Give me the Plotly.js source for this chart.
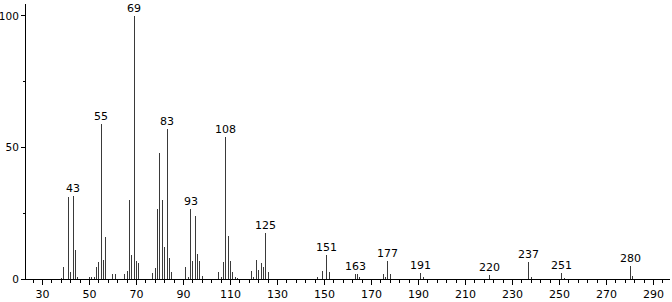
<!DOCTYPE html>
<html>
<head>
<meta charset="utf-8">
<script src="https://cdn.plot.ly/plotly-3.0.1.min.js"></script>
<style>html,body{margin:0;padding:0;background:#fff;}#chart{width:672px;height:302px;}</style>
</head>
<body>
<div id="chart"></div>
<script>
// m/z values of the peaks
var mz = [38,39,41,42,43,44,45,50,51,52,53,54,55,56,57,60,61,65,66,67,68,69,70,71,
  77,78,79,80,81,82,83,84,85,91,92,93,94,95,96,97,98,105,106,107,108,109,110,111,112,113,
  119,120,121,122,123,124,125,126,147,149,151,152,163,164,165,175,176,177,178,191,192,
  220,237,238,251,252,280,281];
// relative intensities (%)
var intensity = [0.5,4.7,31,2.5,31.5,11,0.7,0.6,0.8,0.6,4.7,6.6,59,7.2,16,2,2,2,3.2,30,9,100,7,6,
  2.4,4,26.5,48,30,12,57,8,2.5,4.7,0.7,26.5,7,24,9.5,7,1.2,2.5,0.7,6.5,54,16.5,6.8,2.7,0.7,0.5,
  3,0.6,7.2,3.5,6,4.7,17.5,2.5,0.7,3,9,2.6,1.8,1.8,0.7,1.8,0.8,7,1.9,2.4,0.6,
  1.5,6.3,0.7,2.2,0.5,5.1,1.3];
// labelled peaks
var labelledPeaks = [43,55,69,83,93,108,125,151,163,177,191,220,237,251,280];
// axis ticks
var xTickVals = [30,50,70,90,110,130,150,170,190,210,230,250,270,290];
var yTickVals = [0,50,100];

var FONT = '"DejaVu Sans", sans-serif';

var annotations = labelledPeaks.map(function(p){
  var i = mz.indexOf(p);
  return {x:p, y:intensity[i], xref:'x', yref:'y', text:String(p), showarrow:false,
    yanchor:'bottom', xanchor:'center', yshift:-1, font:{family:FONT, size:11, color:'#000'}};
});

var trace = {type:'bar', x:mz, y:intensity, width:0.42,
  marker:{color:'#3a3a3a', line:{width:0}}, hoverinfo:'x+y'};

var layout = {
  width:672, height:302,
  margin:{l:26, r:2, t:4, b:23, pad:0},
  paper_bgcolor:'#fff', plot_bgcolor:'#fff',
  showlegend:false, bargap:0,
  font:{family:FONT, size:11, color:'#000'},
  xaxis:{range:[23,297], tickvals:xTickVals, ticks:'outside', ticklen:5, tickwidth:1, tickcolor:'#000',
    showline:true, linecolor:'#000', linewidth:1, showgrid:false, zeroline:false,
    tickfont:{family:FONT, size:11, color:'#000'},
    minor:{dtick:4, tick0:30, ticks:'outside', ticklen:3, tickcolor:'#000', showgrid:false}},
  yaxis:{range:[0,104.5], tickvals:yTickVals, ticks:'outside', ticklen:4, tickwidth:1, tickcolor:'#000',
    ticklabelstandoff:0,
    showline:true, linecolor:'#000', linewidth:1, showgrid:false, zeroline:false,
    tickfont:{family:FONT, size:10.5, color:'#000'},
    minor:{dtick:25, ticks:'outside', ticklen:2, tickcolor:'#000', showgrid:false}},
  annotations:annotations
};

Plotly.newPlot('chart', [trace], layout, {displayModeBar:false, staticPlot:true});
</script>
</body>
</html>
